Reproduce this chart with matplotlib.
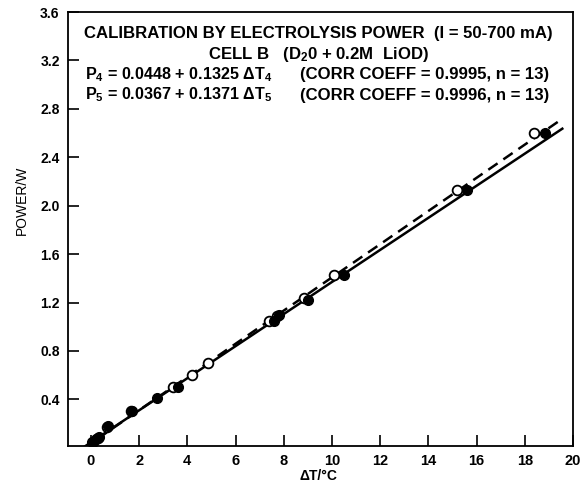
import numpy as np
import matplotlib
matplotlib.use("Agg")
import matplotlib.pyplot as plt

plt.rcParams['font.family'] = ['Liberation Sans', 'DejaVu Sans']
plt.rcParams['mathtext.fontset'] = 'custom'
plt.rcParams['mathtext.rm'] = 'Liberation Sans:bold'
plt.rcParams['mathtext.it'] = 'Liberation Sans:bold'
plt.rcParams['mathtext.bf'] = 'Liberation Sans:bold'
plt.rcParams['mathtext.default'] = 'rm'

# Cell B, thermistor 4 (filled circles, solid fit)
dT4 = [0.05, 0.2, 0.35, 0.7, 1.7, 2.75, 3.6, 7.6, 7.8, 9.0, 10.5, 15.6, 18.85]
P4 = [0.05, 0.07, 0.09, 0.18, 0.30, 0.41, 0.50, 1.05, 1.10, 1.22, 1.43, 2.13, 2.60]
# Cell B, thermistor 5 (open circles, dashed fit)
dT5 = [0.1, 0.3, 0.65, 1.65, 3.4, 4.2, 4.85, 7.4, 7.7, 8.85, 10.1, 15.2, 18.4]
P5 = [0.05, 0.08, 0.17, 0.30, 0.50, 0.60, 0.70, 1.05, 1.09, 1.24, 1.43, 2.13, 2.60]

# Regression coefficients (intercept, slope) as printed on the chart
fit4 = (0.0448, 0.1325)
fit5 = (0.0367, 0.1371)
fit_range = [-0.35, 19.6]

xticks = [0, 2, 4, 6, 8, 10, 12, 14, 16, 18, 20]
yticks = [0.4, 0.8, 1.2, 1.6, 2.0, 2.4, 2.8, 3.2, 3.6]

fig = plt.figure(figsize=(5.82, 4.87), dpi=100)
ax = fig.add_axes([68/582, 1-446/487, (573-68)/582, (446-12)/487])

xl = np.array(fit_range)
ax.plot(xl, fit4[0] + fit4[1]*xl, color='black', lw=1.8, solid_capstyle='butt', zorder=2)
ax.plot(xl, fit5[0] + fit5[1]*xl, color='black', lw=1.8, dashes=(4.5, 2.8), zorder=2)

ax.plot(dT5, P5, 'o', ms=7, mfc='white', mec='black', mew=1.3, zorder=3)
ax.plot(dT4, P4, 'o', ms=7, mfc='black', mec='black', mew=1.0, zorder=4)

ax.set_xlim(-0.95, 20)
ax.set_ylim(0.015, 3.6)
ax.set_xticks(xticks)
ax.set_yticks(yticks)
ax.set_xticklabels([str(t) for t in xticks], fontweight='bold', fontsize=10.5)
ax.set_yticklabels([f"{t:.1f}" for t in yticks], fontweight='bold', fontsize=10)
ax.tick_params(direction='in', length=8, width=1.2, top=False, right=False, pad=6)
for s in ax.spines.values():
    s.set_linewidth(1.3)

fig.text(318/582, 1-476/487, 'ΔT/°C', ha='center', va='center', fontweight='bold', fontsize=10)
fig.text(22/582, 1-200/487, 'POWER/W', rotation=90, ha='center', va='center', fontsize=10)

fs = 12.1
fsp = 11.6
fig.text(318/582, 1-33/487, 'CALIBRATION BY ELECTROLYSIS POWER  (I = 50-700 mA)',
         ha='center', va='center', fontsize=fs, fontweight='bold')
fig.text(318/582, 1-54/487, 'CELL B   (D$_2$0 + 0.2M  LiOD)',
         ha='center', va='center', fontsize=fs, fontweight='bold')
fig.text(85/582, 1-75/487, 'P$_4$ = 0.0448 + 0.1325 ΔT$_4$',
         ha='left', va='center', fontsize=fsp, fontweight='bold')
fig.text(300/582, 1-75/487, '(CORR COEFF = 0.9995, n = 13)',
         ha='left', va='center', fontsize=fs, fontweight='bold')
fig.text(85/582, 1-95/487, 'P$_5$ = 0.0367 + 0.1371 ΔT$_5$',
         ha='left', va='center', fontsize=fsp, fontweight='bold')
fig.text(300/582, 1-95/487, '(CORR COEFF = 0.9996, n = 13)',
         ha='left', va='center', fontsize=fs, fontweight='bold')

fig.savefig('out.png', dpi=100)
